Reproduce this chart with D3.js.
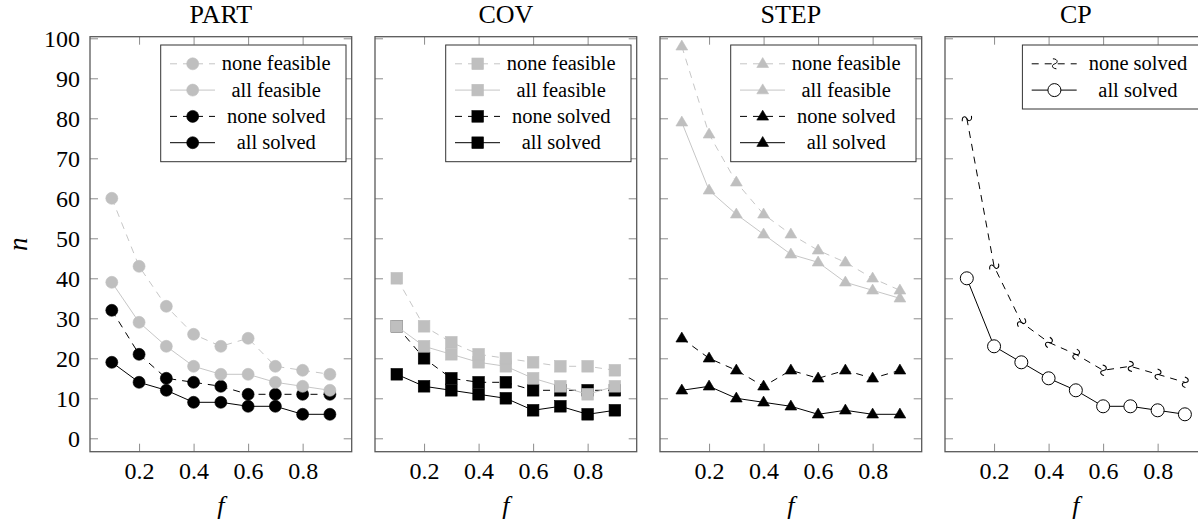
<!DOCTYPE html>
<html><head><meta charset="utf-8">
<script src="https://cdn.jsdelivr.net/npm/d3@7"></script>
<style>
body{margin:0;background:#fff}
svg{display:block}
svg text{font-family:"Liberation Serif","DejaVu Serif",Tinos,serif !important;fill:#000}
</style>
</head><body>
<svg id="chart" width="1198" height="525"></svg>
<script>
// ---- data ----
const fValues = [0.1, 0.2, 0.3, 0.4, 0.5, 0.6, 0.7, 0.8, 0.9];
const xTicks = [0.2, 0.4, 0.6, 0.8];
const yTicks = [0, 10, 20, 30, 40, 50, 60, 70, 80, 90, 100];
const panelTitles = ["PART", "COV", "STEP", "CP"];
const seriesLabels = ["none feasible", "all feasible", "none solved", "all solved"];

const partNoneFeasible = [60, 43, 33, 26, 23, 25, 18, 17, 16];
const partAllFeasible  = [39, 29, 23, 18, 16, 16, 14, 13, 12];
const partNoneSolved   = [32, 21, 15, 14, 13, 11, 11, 11, 11];
const partAllSolved    = [19, 14, 12, 9, 9, 8, 8, 6, 6];

const covNoneFeasible = [40, 28, 24, 21, 20, 19, 18, 18, 17];
const covAllFeasible  = [28, 23, 21, 19, 18, 15, 13, 11, 13];
const covNoneSolved   = [28, 20, 15, 14, 14, 12, 12, 12, 12];
const covAllSolved    = [16, 13, 12, 11, 10, 7, 8, 6, 7];

const stepNoneFeasible = [98, 76, 64, 56, 51, 47, 44, 40, 37];
const stepAllFeasible  = [79, 62, 56, 51, 46, 44, 39, 37, 35];
const stepNoneSolved   = [25, 20, 17, 13, 17, 15, 17, 15, 17];
const stepAllSolved    = [12, 13, 10, 9, 8, 6, 7, 6, 6];

const cpNoneSolved = [80, 43, 29, 24, 21, 17, 18, 16, 14];
const cpAllSolved  = [40, 23, 19, 15, 12, 8, 8, 7, 6];

// ---- layout ----
const svg = d3.select("#chart");
const FONT = '"Liberation Serif","DejaVu Serif",Tinos,serif';
const panelLeft0 = 90, panelStep = 285, panelW = 261.7;
const plotTop = 36.7, plotBottom = 451.7;
const GRAY = "#bfbfbf";
const FRAME = "#595959";
const TICKC = "#8c8c8c";

const panels = [
  {title: panelTitles[0], marker: "circle", series: [
    {label: seriesLabels[0], values: partNoneFeasible, color: GRAY, dashed: true},
    {label: seriesLabels[1], values: partAllFeasible, color: GRAY, dashed: false},
    {label: seriesLabels[2], values: partNoneSolved, color: "#000", dashed: true},
    {label: seriesLabels[3], values: partAllSolved, color: "#000", dashed: false}]},
  {title: panelTitles[1], marker: "square", series: [
    {label: seriesLabels[0], values: covNoneFeasible, color: GRAY, dashed: true},
    {label: seriesLabels[1], values: covAllFeasible, color: GRAY, dashed: false},
    {label: seriesLabels[2], values: covNoneSolved, color: "#000", dashed: true},
    {label: seriesLabels[3], values: covAllSolved, color: "#000", dashed: false}]},
  {title: panelTitles[2], marker: "triangle", series: [
    {label: seriesLabels[0], values: stepNoneFeasible, color: GRAY, dashed: true},
    {label: seriesLabels[1], values: stepAllFeasible, color: GRAY, dashed: false},
    {label: seriesLabels[2], values: stepNoneSolved, color: "#000", dashed: true},
    {label: seriesLabels[3], values: stepAllSolved, color: "#000", dashed: false}]},
  {title: panelTitles[3], marker: "cp", series: [
    {label: seriesLabels[2], values: cpNoneSolved, color: "#000", dashed: true, mk: "squiggle"},
    {label: seriesLabels[3], values: cpAllSolved, color: "#000", dashed: false, mk: "open"}]}
];

function drawMarker(g, type, cx, cy, color, angle) {
  if (type === "circle") {
    g.append("circle").attr("cx", cx).attr("cy", cy).attr("r", 6).attr("fill", color).attr("stroke", color).attr("stroke-width", 0.6);
  } else if (type === "square") {
    g.append("rect").attr("x", cx - 5.8).attr("y", cy - 5.8).attr("width", 11.6).attr("height", 11.6).attr("fill", color).attr("stroke", color).attr("stroke-width", 0.6);
  } else if (type === "triangle") {
    const s = 6.2;
    g.append("path").attr("d", `M${cx},${cy - s}L${cx + s * 0.95},${cy + s * 0.6}L${cx - s * 0.95},${cy + s * 0.6}Z`).attr("fill", color).attr("stroke", color).attr("stroke-width", 0.6);
  } else if (type === "open") {
    g.append("circle").attr("cx", cx).attr("cy", cy).attr("r", 6.5).attr("fill", "#fff").attr("stroke", "#000").attr("stroke-width", 1);
  } else if (type === "squiggle") {
    g.append("path").attr("d", "M-1.5,-5 C3.5,-5 4,-1 0.5,0 C-3,1 -3,4.5 2,5")
      .attr("transform", `translate(${cx},${cy}) rotate(${angle})`)
      .attr("fill", "none").attr("stroke", "#000").attr("stroke-width", 1);
  }
}

panels.forEach((p, i) => {
  const L = panelLeft0 + i * panelStep, R = L + panelW;
  const x = d3.scaleLinear().domain([0.02, 0.98]).range([L, R]);
  const y = d3.scaleLinear().domain([-3.35, 100.4]).range([plotBottom, plotTop]);
  const g = svg.append("g");

  const tl = 8;
  const axB = g.append("g").attr("transform", `translate(0,${plotBottom})`)
    .call(d3.axisBottom(x).tickValues(xTicks).tickSizeInner(-tl).tickSizeOuter(0).tickFormat(d3.format(".1f")));
  const axT = g.append("g").attr("transform", `translate(0,${plotTop})`)
    .call(d3.axisTop(x).tickValues(xTicks).tickSizeInner(-tl).tickSizeOuter(0).tickFormat(""));
  const axL = g.append("g").attr("transform", `translate(${L},0)`)
    .call(d3.axisLeft(y).tickValues(yTicks).tickSizeInner(-tl).tickSizeOuter(0).tickFormat(i === 0 ? d3.format("d") : ""));
  const axR = g.append("g").attr("transform", `translate(${R},0)`)
    .call(d3.axisRight(y).tickValues(yTicks).tickSizeInner(-tl).tickSizeOuter(0).tickFormat(""));
  [axB, axT, axL, axR].forEach(a => {
    a.attr("font-family", FONT).attr("font-size", 24);
    a.select(".domain").remove();
    a.selectAll(".tick line").attr("stroke", TICKC).attr("stroke-width", 1);
    a.selectAll("text").attr("font-family", FONT).attr("font-size", 24).attr("fill", "#000");
  });
  axB.selectAll("text").attr("dy", null).attr("y", 27);
  axL.selectAll("text").attr("x", -10).attr("dy", "0.33em");

  const ser = p.series.slice().reverse();
  ser.forEach(s => {
    const pts = fValues.map((f, k) => [x(f), y(s.values[k])]);
    g.append("path").attr("d", d3.line()(pts)).attr("fill", "none")
      .attr("stroke", s.color).attr("stroke-width", s.color === GRAY ? 0.9 : 1)
      .attr("stroke-dasharray", s.dashed ? "7,6" : null);
    pts.forEach((pt, k) => {
      const mk = s.mk || p.marker;
      let ang = 0;
      if (mk === "squiggle") {
        const a = pts[Math.max(0, k - 1)], b = pts[Math.min(pts.length - 1, k + 1)];
        ang = Math.atan2(b[1] - a[1], b[0] - a[0]) * 180 / Math.PI;
      }
      drawMarker(g, mk, pt[0], pt[1], s.color, ang);
    });
  });

  g.append("rect").attr("x", L).attr("y", plotTop).attr("width", panelW).attr("height", plotBottom - plotTop)
    .attr("fill", "none").attr("stroke", FRAME).attr("stroke-width", 1.3);

  g.append("text").attr("x", (L + R) / 2).attr("y", 23).attr("text-anchor", "middle").attr("font-family", FONT).attr("font-size", 26).text(p.title);
  g.append("text").attr("x", (L + R) / 2).attr("y", 514).attr("text-anchor", "middle").attr("font-family", FONT).attr("font-size", 26).attr("font-style", "italic").text("f");

  const n = p.series.length;
  const lw = n === 4 ? 185.3 : 178.6;
  const lx = R - 5.7 - lw, ly = 45, rowH = 26.3;
  const lh = n === 4 ? 116.7 : 64;
  const lg = g.append("g");
  lg.append("rect").attr("x", lx).attr("y", ly).attr("width", lw).attr("height", lh)
    .attr("fill", "#fff").attr("stroke", "#333").attr("stroke-width", 1);
  p.series.forEach((s, k) => {
    const cy = ly + 18.8 + k * rowH;
    lg.append("line").attr("x1", lx + 9.3).attr("x2", lx + 54.3).attr("y1", cy).attr("y2", cy)
      .attr("stroke", s.color).attr("stroke-width", s.color === GRAY ? 0.9 : 1)
      .attr("stroke-dasharray", s.dashed ? "7,6" : null);
    drawMarker(lg, s.mk || p.marker, lx + 32, cy, s.color, 0);
    lg.append("text").attr("x", lx + 115.5).attr("y", cy).attr("dy", "0.32em").attr("text-anchor", "middle")
      .attr("font-family", FONT).attr("font-size", 20.5).text(s.label);
  });
});

svg.append("text").attr("transform", `translate(27,${(plotTop + plotBottom) / 2}) rotate(-90)`)
  .attr("text-anchor", "middle").attr("font-family", FONT).attr("font-size", 27).attr("font-style", "italic").text("n");
</script>
</body></html>
